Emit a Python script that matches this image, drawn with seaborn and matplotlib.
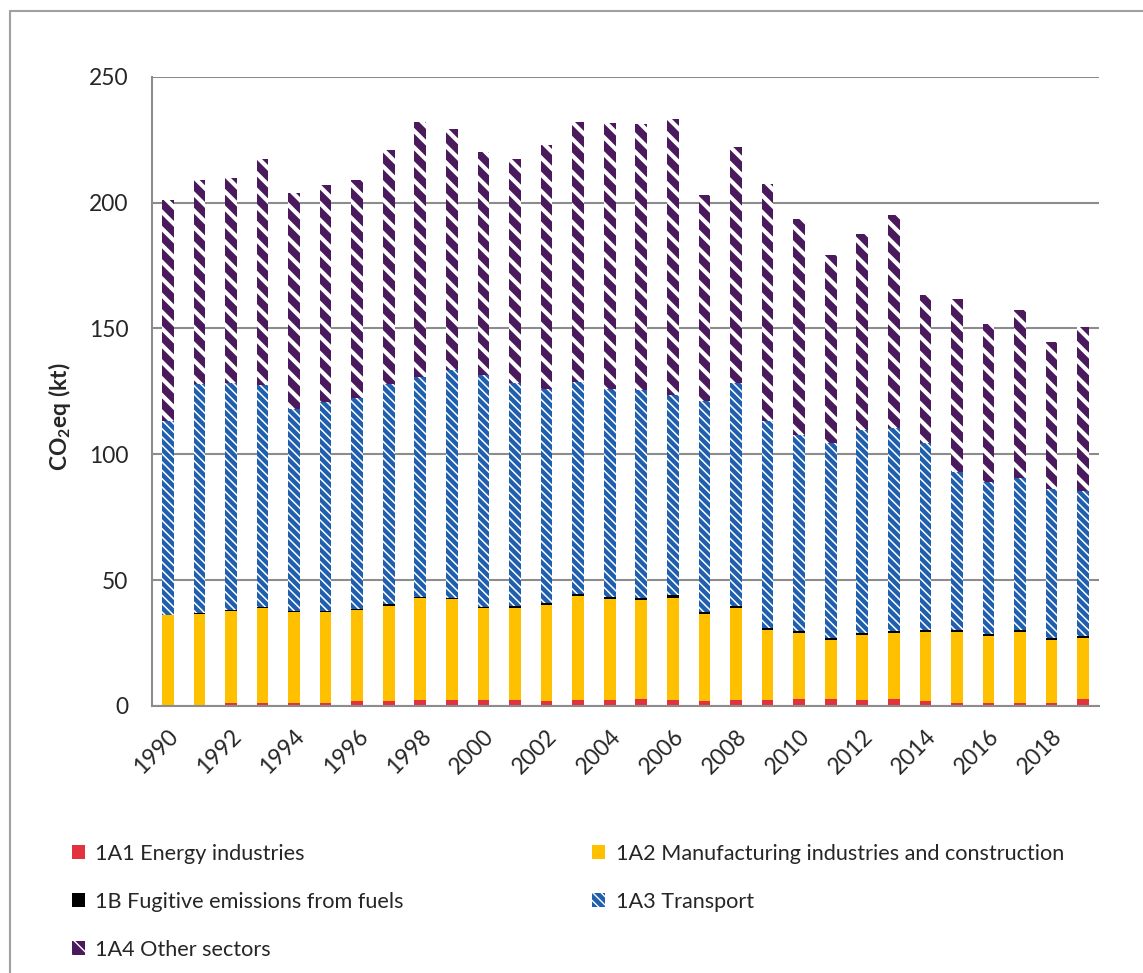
import numpy as np
import matplotlib.pyplot as plt
import matplotlib.patches as mpatches
from matplotlib.lines import Line2D
import seaborn as sns

# Data (kt CO2eq)
years = list(range(1990, 2020))
energy = [0.1, 0.3, 1.3, 1.3, 1.0, 1.3, 1.8, 1.8, 2.2, 2.2,
          2.2, 2.2, 1.8, 2.2, 2.2, 2.7, 2.2, 1.8, 2.2, 2.2,
          2.7, 2.7, 2.2, 2.7, 1.8, 1.3, 1.3, 1.3, 1.3, 2.7]
manufacturing = [36.0, 36.2, 36.4, 37.8, 36.3, 36.0, 36.2, 38.0, 40.7, 40.3,
                 36.7, 36.8, 38.2, 41.4, 40.2, 39.3, 40.9, 34.6, 36.6, 28.0,
                 26.4, 23.5, 26.0, 26.4, 27.6, 28.1, 26.5, 28.1, 24.9, 24.3]
fugitive = [0.2, 0.3, 0.6, 0.4, 0.3, 0.6, 0.4, 0.6, 0.6, 0.6,
            0.6, 0.8, 0.8, 0.8, 0.8, 0.8, 0.8, 0.8, 0.8, 0.8,
            0.8, 0.8, 0.8, 0.8, 0.8, 0.8, 0.8, 0.8, 0.8, 0.8]
transport = [77.0, 91.2, 90.1, 88.1, 80.4, 82.9, 84.0, 87.6, 87.2, 90.4,
             92.0, 88.6, 85.2, 84.4, 82.8, 82.8, 79.7, 84.0, 88.8, 82.3,
             77.9, 77.6, 80.7, 80.6, 74.4, 62.8, 60.4, 60.5, 59.4, 57.8]
other = [87.6, 80.8, 81.2, 89.9, 85.6, 86.0, 86.4, 93.0, 101.5, 95.9,
         88.4, 89.1, 96.7, 103.4, 105.8, 105.7, 109.6, 81.7, 93.5, 94.2,
         85.5, 74.5, 78.0, 84.4, 58.6, 68.6, 62.7, 66.6, 58.1, 65.1]

labels = ["1A1 Energy industries",
          "1A2 Manufacturing industries and construction",
          "1B Fugitive emissions from fuels",
          "1A3 Transport",
          "1A4 Other sectors"]

RED = "#E2323F"
YELLOW = "#FFC000"
BLACK = "#000000"
BLUE = "#1F5FAD"
PURPLE = "#4A1A5C"
GRAY = "#8C8C8C"
FS = 15.6

sns.set_theme(style="white")
plt.rcParams["font.family"] = ["Lato", "DejaVu Sans"]
plt.rcParams["mathtext.fontset"] = "custom"
plt.rcParams["mathtext.rm"] = "Lato"
plt.rcParams["mathtext.bf"] = "Lato:bold"

# stacked order bottom -> top; draw cumulative tops from the tallest down
layers = [
    (energy, RED, "", 1.0),
    (manufacturing, YELLOW, "", 1.0),
    (fugitive, BLACK, "", 1.0),
    (transport, BLUE, "\\\\\\\\", 1.1),
    (other, PURPLE, "\\\\", 3.0),
]
tops = np.cumsum([np.array(l[0]) for l in layers], axis=0)

fig = plt.figure(figsize=(11.43, 9.73), dpi=100)
ax = fig.add_axes([152 / 1143, 1 - 706 / 973, (1099 - 152) / 1143, (706 - 76.7) / 973])

for i in range(len(layers) - 1, -1, -1):
    vals, col, hatch, hlw = layers[i]
    n0 = len(ax.patches)
    with plt.rc_context({"hatch.linewidth": hlw}):
        sns.barplot(x=years, y=tops[i], color=col, saturation=1, width=0.37,
                    errorbar=None, hatch=hatch if hatch else None,
                    edgecolor="white" if hatch else col, linewidth=0, ax=ax)
    for p in ax.patches[n0:]:
        if hasattr(p, "set_hatch_linewidth"):
            p.set_hatch_linewidth(hlw)

ax.set_xlim(-0.5, len(years) - 0.5)
ax.set_ylim(0, 250)
ax.set_yticks(np.arange(0, 251, 50))
ax.yaxis.grid(True, color=GRAY, linewidth=1.5)
ax.set_axisbelow(True)
for side in ["top", "right"]:
    ax.spines[side].set_visible(False)
for side in ["left", "bottom"]:
    ax.spines[side].set_color(GRAY)
    ax.spines[side].set_linewidth(1.5)

ax.set_xticks(np.arange(0, len(years), 2))
ax.set_xticklabels([str(y) for y in years[::2]], rotation=45, ha="right",
                   va="top", rotation_mode="anchor", fontsize=FS + 0.8)
ax.set_xticks(np.arange(-0.5, len(years), 1), minor=True)
ax.tick_params(axis="x", which="major", length=0, pad=14)
ax.tick_params(axis="x", which="minor", length=9, width=1.5, color=GRAY, direction="out")
ax.tick_params(axis="y", length=9, width=1.5, color=GRAY, direction="out",
               labelsize=FS + 0.8, pad=8)
ax.set_xlabel("")
ax.set_ylabel(r"CO$_\mathbf{2}$eq (kt)", fontsize=FS + 0.8, fontweight="bold")
ax.yaxis.set_label_coords(-0.083, 0.46)

# legend, row-major order like the original
handles = []
for _, c, h, hlw in layers:
    hp = mpatches.Patch(facecolor=c, edgecolor="white" if h else c,
                        hatch=h if h else None, linewidth=0)
    if hasattr(hp, "set_hatch_linewidth"):
        hp.set_hatch_linewidth(min(hlw, 2.0))
    handles.append(hp)
order = [0, 2, 4, 1, 3]
fig.legend([handles[i] for i in order], [labels[i] for i in order],
           loc="upper left", bbox_to_anchor=(52 / 1143, 1 - 824 / 973), ncol=2,
           frameon=False, fontsize=FS, handlelength=0.6, handleheight=0.6,
           handletextpad=0.5, labelspacing=1.3, columnspacing=8.7)

# outer chart border (top and left edges visible)
fig.add_artist(Line2D([10 / 1143, 10 / 1143], [0, 1 - 11 / 973], color="#A0A0A0", lw=1.5,
                      transform=fig.transFigure))
fig.add_artist(Line2D([10 / 1143, 1], [1 - 11 / 973, 1 - 11 / 973], color="#A0A0A0", lw=1.5,
                      transform=fig.transFigure))

fig.savefig("out.png", dpi=100)
